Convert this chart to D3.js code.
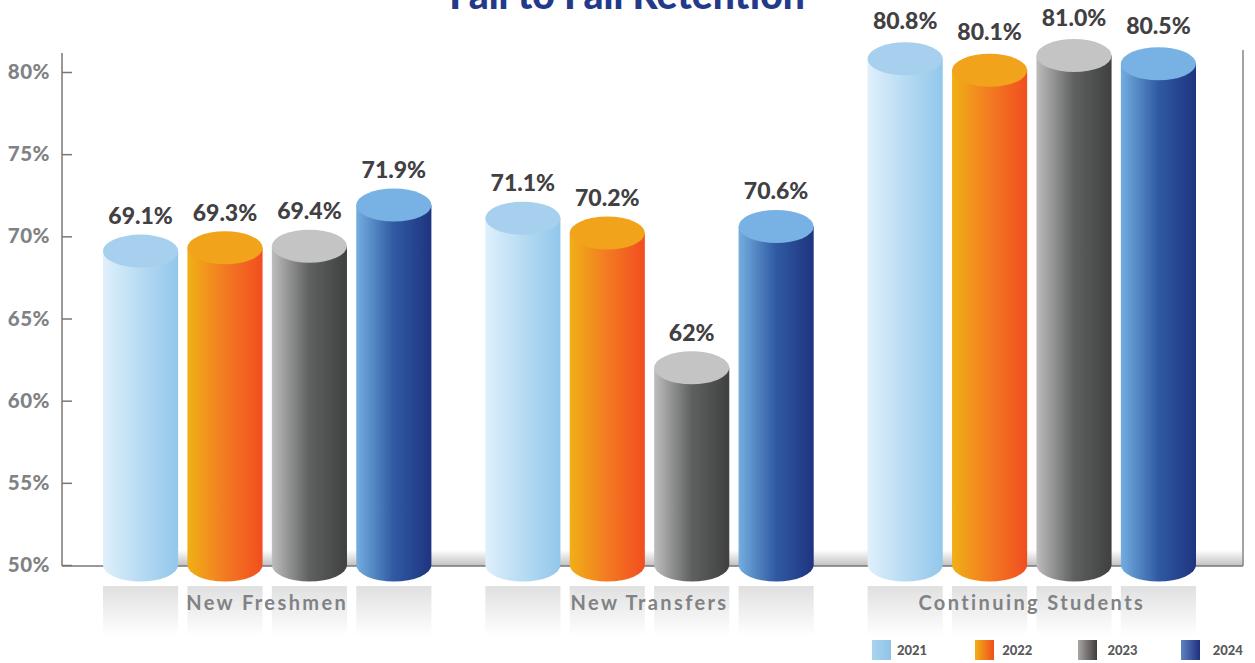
<!DOCTYPE html>
<html><head><meta charset="utf-8">
<script src="https://cdn.jsdelivr.net/npm/d3@7/dist/d3.min.js"></script>
<style>html,body{margin:0;background:#fff}svg{display:block}</style></head>
<body><svg id="c" width="1255" height="663"></svg>
<script>
const categories = ["New Freshmen", "New Transfers", "Continuing Students"];
const years = ["2021", "2022", "2023", "2024"];
const values2021 = [69.1, 71.1, 80.8];
const values2022 = [69.3, 70.2, 80.1];
const values2023 = [69.4, 62, 81.0];
const values2024 = [71.9, 70.6, 80.5];
const valueLabels2021 = ["69.1%", "71.1%", "80.8%"];
const valueLabels2022 = ["69.3%", "70.2%", "80.1%"];
const valueLabels2023 = ["69.4%", "62%", "81.0%"];
const valueLabels2024 = ["71.9%", "70.6%", "80.5%"];
const yTicks = [50, 55, 60, 65, 70, 75, 80];
const title = "Fall to Fall Retention";

const seriesValues = [values2021, values2022, values2023, values2024];
const seriesLabels = [valueLabels2021, valueLabels2022, valueLabels2023, valueLabels2024];
const stops = [
  ["#dff0fb", "#b7dbf3", "#92c7eb"],
  ["#f0b016", "#f37a22", "#f14e1f"],
  ["#bdbdbd", "#5f6060", "#3f4040"],
  ["#74ade0", "#2f5aa2", "#1f347f"]
];
const swatchStops = [
  ["#a9d4ef", "#8fc4e6"],
  ["#f0b016", "#f14e1f"],
  ["#a9a5a3", "#3f3c3c"],
  ["#5f82bf", "#1f2f80"]
];
const capColors = ["#a6d0ee", "#f2a31c", "#c4c4c4", "#78b1e3"];
const font = "'Lato','Open Sans',sans-serif";

const svg = d3.select("#c");
const defs = svg.append("defs");
years.forEach((yr, i) => {
  const g = defs.append("linearGradient").attr("id", "g" + i);
  stops[i].forEach((c, k) => g.append("stop").attr("offset", k / 2).attr("stop-color", c));
  const s = defs.append("linearGradient").attr("id", "s" + i);
  swatchStops[i].forEach((c, k) => s.append("stop").attr("offset", k).attr("stop-color", c));
});
const fade = defs.append("linearGradient").attr("id", "fade").attr("x1", 0).attr("x2", 0).attr("y1", 0).attr("y2", 1);
fade.append("stop").attr("offset", 0).attr("stop-color", "#e0e0e0");
fade.append("stop").attr("offset", 1).attr("stop-color", "#ffffff");
const shade = defs.append("linearGradient").attr("id", "shade").attr("x1", 0).attr("x2", 0).attr("y1", 0).attr("y2", 1);
shade.append("stop").attr("offset", 0).attr("stop-color", "#ffffff");
shade.append("stop").attr("offset", 1).attr("stop-color", "#c2c0bf");

const y = d3.scaleLinear().domain([50, 80]).range([565, 72]);
const x0 = d3.scaleBand().domain(categories).range([103, 1196]).paddingInner(0.141);
const x1 = d3.scaleBand().domain(years).range([0, x0.bandwidth()]).paddingInner(0.11);
const ry = 16.5;
const labelOffset = [27, 27, 30];

// title (cut by the top edge, as in the reference)
svg.append("text").attr("x", 627).attr("y", 9).attr("text-anchor", "middle")
  .attr("font-family", font).attr("font-weight", 900).attr("font-size", 39)
  .attr("fill", "#233a8b").text(title);

// axis
const axis = d3.axisLeft(y).tickValues(yTicks).tickFormat(d => d + "%").tickSize(10).tickPadding(12);
const ga = svg.append("g").attr("transform", "translate(72,0)").call(axis);
ga.select(".domain").remove();
ga.selectAll(".tick line").attr("stroke", "#777").attr("stroke-width", 1.5);
ga.selectAll(".tick text").attr("font-family", font).attr("font-weight", 900).attr("font-size", 20.5)
  .attr("fill", "#808285").attr("letter-spacing", 0.5);

// shadow along the baseline
svg.append("rect").attr("x", 103).attr("y", 550).attr("width", 1140).attr("height", 16).attr("fill", "url(#shade)");
svg.append("line").attr("x1", 62).attr("x2", 62).attr("y1", 53).attr("y2", y(50) + 1).attr("stroke", "#777").attr("stroke-width", 1.5);
svg.append("line").attr("x1", 62).attr("x2", 1243).attr("y1", y(50) + 1).attr("y2", y(50) + 1).attr("stroke", "#777").attr("stroke-width", 1.5);
svg.append("line").attr("x1", 1243).attr("x2", 1243).attr("y1", 50).attr("y2", y(50) + 1).attr("stroke", "#8a8580").attr("stroke-width", 1.5);

categories.forEach((cat, c) => {
  const g = svg.append("g").attr("transform", `translate(${x0(cat)},0)`);
  g.selectAll("rect.r").data(years).join("rect").attr("class", "r")
    .attr("x", d => x1(d)).attr("y", 586).attr("width", x1.bandwidth()).attr("height", 50).attr("fill", "url(#fade)");
  const bars = g.selectAll("g.b").data(years.map((yr, i) => ({ yr, i, v: seriesValues[i][c], l: seriesLabels[i][c] }))).join("g").attr("class", "b");
  bars.append("path").attr("fill", d => `url(#g${d.i})`).attr("d", d => {
    const a = x1(d.yr), w = x1.bandwidth(), t = y(d.v), b = y(50);
    return `M${a},${t}L${a},${b}A${w / 2},${ry} 0 0 0 ${a + w},${b}L${a + w},${t}Z`;
  });
  bars.append("ellipse").attr("cx", d => x1(d.yr) + x1.bandwidth() / 2).attr("cy", d => y(d.v))
    .attr("rx", x1.bandwidth() / 2).attr("ry", ry).attr("fill", d => capColors[d.i]);
  bars.append("text").attr("x", d => x1(d.yr) + x1.bandwidth() / 2).attr("y", d => y(d.v) - labelOffset[c])
    .attr("text-anchor", "middle").attr("font-family", font).attr("font-weight", 900).attr("font-size", 23)
    .attr("fill", "#414042").text(d => d.l);
  svg.append("text").attr("x", x0(cat) + x0.bandwidth() / 2).attr("y", 610).attr("text-anchor", "middle")
    .attr("font-family", font).attr("font-weight", 700).attr("font-size", 20).attr("letter-spacing", 2.4)
    .attr("fill", "#808285").text(cat);
});

// legend
const lx = d3.scaleBand().domain(years).range([872, 1284]);
const ltx = d3.scaleBand().domain(years).range([897, 1318]);
svg.selectAll("rect.l").data(years).join("rect").attr("class", "l")
  .attr("x", d => lx(d)).attr("y", 640).attr("width", 19).attr("height", 20).attr("fill", (d, i) => `url(#s${i})`);
svg.selectAll("text.l").data(years).join("text").attr("class", "l")
  .attr("x", d => ltx(d)).attr("y", 655).attr("font-family", font).attr("font-weight", 900).attr("font-size", 13)
  .attr("fill", "#58595b").text(d => d);
</script></body></html>
